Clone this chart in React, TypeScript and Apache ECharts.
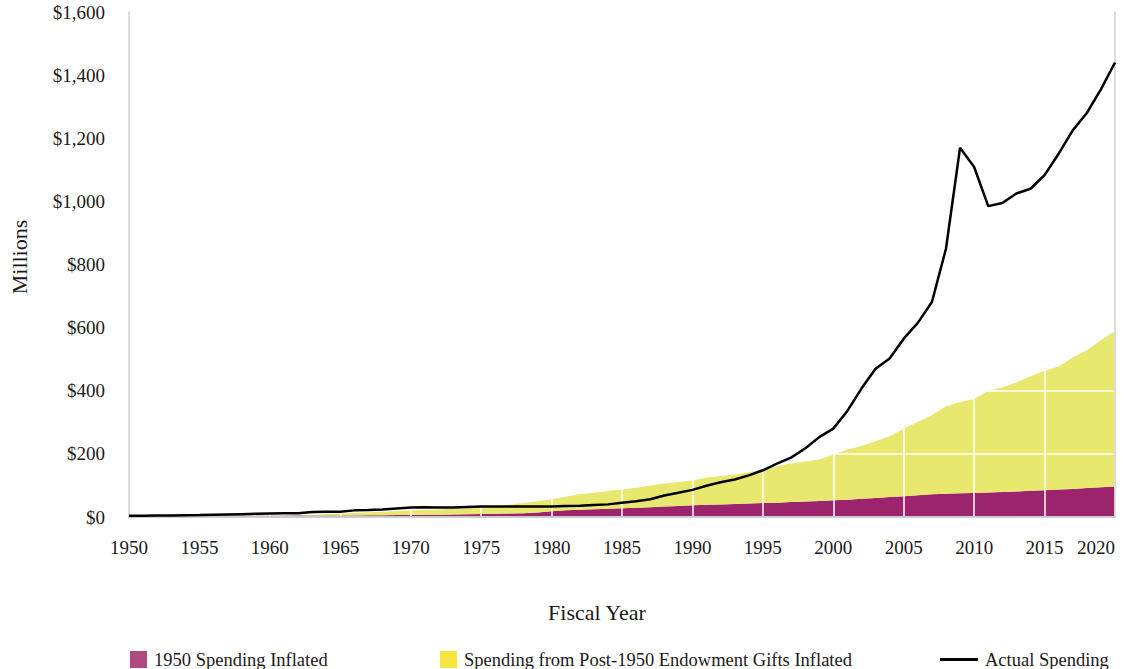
import React, { useEffect, useRef } from "react";
import * as echarts from "echarts";

const years: string[] = [];
for (let y = 1950; y <= 2020; y++) years.push(String(y));

// 1950 Spending Inflated ($M)
const base1950: number[] = [
  3, 3.2, 3.3, 3.4, 3.5, 3.6, 3.7, 3.9, 4.0, 4.1,
  4.2, 4.3, 4.4, 4.5, 4.6, 4.8, 5.0, 5.3, 5.6, 6.0,
  6.4, 6.8, 7.1, 7.6, 8.4, 9.3, 10.0, 10.8, 12.0, 14.5,
  18, 21, 23, 24.5, 26, 28, 29.5, 31, 33, 35,
  37, 38.5, 40, 41, 42.5, 44, 45.5, 47.5, 49.5, 51,
  53, 55, 58, 60, 63, 66, 69, 72, 74, 75,
  76, 77.5, 79, 81, 83, 85, 87, 89, 92, 94.5,
  97,
];

// Spending from Post-1950 Endowment Gifts Inflated ($M)
const postGifts: number[] = [
  0, 0, 0, 0, 0, 0, 0, 0, 0, 0,
  0, 0, 0.6, 2.5, 4.4, 6.2, 8, 9.7, 11.4, 13,
  14.6, 15.2, 16.9, 18.4, 19.6, 21.7, 24, 28.2, 32, 35.5,
  38, 43, 49, 52.5, 56, 59, 63.5, 69, 73, 76,
  79, 86.5, 90, 94, 99.5, 106, 115.5, 122.5, 126.5, 131,
  145, 159, 167, 180, 193, 214, 232, 250, 277, 289,
  298, 321.5, 331, 345, 363, 378, 390, 416, 436, 465.5,
  492,
];

// Actual Spending ($M)
const actual: number[] = [
  4, 4, 4.5, 5, 5.5, 6, 7, 8, 9, 10,
  11, 11.5, 12, 16, 17, 17, 21, 22, 24, 27,
  30, 31, 30, 30, 32, 33, 33, 33, 33, 33,
  33, 35, 36, 38, 40, 45, 50, 56, 68, 77,
  86, 99, 110, 119, 132, 148, 169, 188, 217, 253,
  280, 336, 407, 470, 502, 565, 615, 681, 850, 1170,
  1109, 985, 995, 1025, 1040, 1083, 1151, 1225, 1280, 1355,
  1440,
];

const names = [
  "1950 Spending Inflated",
  "Spending from Post-1950 Endowment Gifts Inflated",
  "Actual Spending",
];

const FONT = "'Liberation Serif', 'Times New Roman', serif";
const TEXT = "#1a1a1a";

export default function App() {
  const ref = useRef<HTMLDivElement>(null);
  useEffect(() => {
    if (!ref.current) return;
    const chart = echarts.init(ref.current, undefined, { renderer: "svg" });
    const border = "#d2d2d2";
    const legendCommon = {
      top: 650,
      padding: 0,
      selectedMode: false,
      itemWidth: 17,
      itemHeight: 17,
      textStyle: { fontFamily: FONT, fontSize: 18.5, color: TEXT, lineHeight: 17, padding: [0, 0, 0, 2] },
    };
    chart.setOption({
      animation: false,
      textStyle: { fontFamily: FONT },
      grid: { left: 129, right: 19, top: 12, bottom: 152, containLabel: false },
      xAxis: [
        {
          type: "category",
          data: years,
          boundaryGap: false,
          z: 4,
          axisLine: { show: false },
          axisTick: { show: false },
          axisLabel: {
            interval: 4,
            margin: 21,
            fontSize: 19,
            color: TEXT,
            fontFamily: FONT,
            alignMaxLabel: "right",
          },
          splitLine: { show: true, interval: 4, lineStyle: { color: "#ffffff", width: 1.5 } },
        },
        {
          type: "value", position: "bottom", min: 0, max: 1, z: 8,
          axisLine: { show: true, lineStyle: { color: "#a6a6a6", width: 1.5 } },
          axisTick: { show: false }, axisLabel: { show: false }, splitLine: { show: false },
        },
        {
          type: "value", position: "top", min: 0, max: 1, z: 8,
          axisLine: { show: true, lineStyle: { color: border, width: 1.5 } },
          axisTick: { show: false }, axisLabel: { show: false }, splitLine: { show: false },
        },
      ],
      yAxis: [
        {
          type: "value",
          min: 0,
          max: 1600,
          interval: 200,
          z: 4,
          axisLine: { show: false },
          axisTick: { show: false },
          axisLabel: {
            margin: 24,
            fontSize: 19,
            color: TEXT,
            fontFamily: FONT,
            formatter: (v: number) => "$" + v.toLocaleString("en-US"),
          },
          splitLine: { show: true, lineStyle: { color: "#ffffff", width: 1.5 } },
        },
        {
          type: "value", position: "left", min: 0, max: 1, z: 8,
          axisLine: { show: true, onZero: false, lineStyle: { color: border, width: 1.5 } },
          axisTick: { show: false }, axisLabel: { show: false }, splitLine: { show: false },
        },
        {
          type: "value", position: "right", min: 0, max: 1, z: 8,
          axisLine: { show: true, onZero: false, lineStyle: { color: border, width: 1.5 } },
          axisTick: { show: false }, axisLabel: { show: false }, splitLine: { show: false },
        },
      ],
      legend: [
        {
          ...legendCommon,
          left: 130,
          data: [{ name: names[0], icon: "rect", itemStyle: { color: "#b04a7e" } }],
        },
        {
          ...legendCommon,
          left: 440,
          data: [{ name: names[1], icon: "rect", itemStyle: { color: "#f6e53e" } }],
        },
        {
          ...legendCommon,
          left: 940,
          itemWidth: 38,
          itemHeight: 3,
          data: [{ name: names[2], icon: "rect", itemStyle: { color: "#000000" } }],
        },
      ],
      graphic: [
        {
          type: "text",
          x: 19,
          y: 257,
          rotation: Math.PI / 2,
          style: {
            text: "Millions",
            fontFamily: FONT,
            fontSize: 22,
            fill: TEXT,
            align: "center",
            verticalAlign: "middle",
          },
        },
        {
          type: "text",
          x: 597,
          y: 612,
          style: {
            text: "Fiscal Year",
            fontFamily: FONT,
            fontSize: 22,
            fill: TEXT,
            align: "center",
            verticalAlign: "middle",
          },
        },
      ],
      series: [
        {
          name: names[0],
          type: "line",
          stack: "total",
          data: base1950,
          symbol: "none",
          z: 2,
          lineStyle: { width: 0 },
          itemStyle: { color: "#9b246d" },
          areaStyle: { color: "#9b246d", opacity: 1 },
        },
        {
          name: names[1],
          type: "line",
          stack: "total",
          data: postGifts,
          symbol: "none",
          z: 2,
          lineStyle: { width: 0 },
          itemStyle: { color: "#e8e86e" },
          areaStyle: { color: "#e8e86e", opacity: 1 },
        },
        {
          name: names[2],
          type: "line",
          data: actual,
          symbol: "none",
          z: 10,
          lineStyle: { color: "#000000", width: 2.5 },
          itemStyle: { color: "#000000" },
        },
      ],
    });
    return () => chart.dispose();
  }, []);
  return (
    <div
      ref={ref}
      style={{ position: "absolute", left: 0, top: 0, width: 1134, height: 669 }}
    />
  );
}
